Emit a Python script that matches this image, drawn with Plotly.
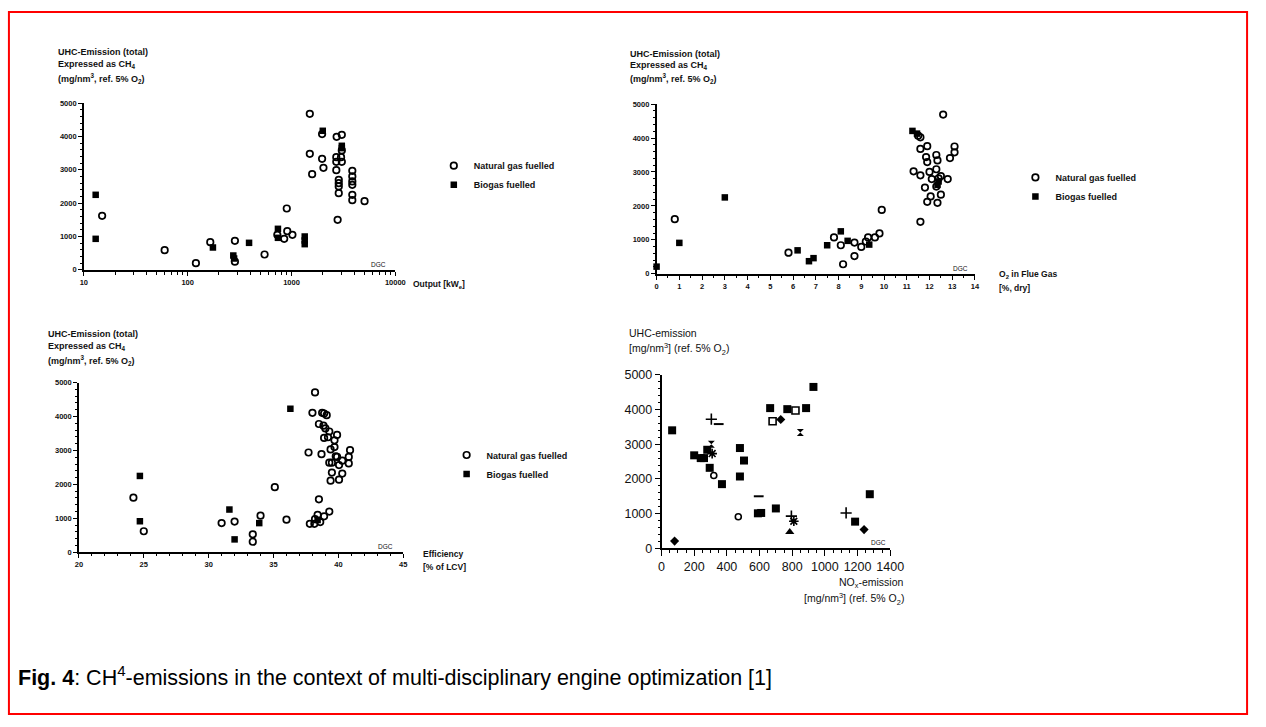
import plotly.graph_objects as go

W, H = 1266, 727
FONT = "Liberation Sans, Arial, sans-serif"

# ---------------- data ----------------
# Panel 1: UHC vs output [kWe] (log)
ng1_x = [15, 60, 120, 165, 285, 285, 550, 730, 850, 900, 910, 1020, 1500, 1500, 1580, 1970, 2030, 1970, 2720, 3050,
         2700, 2700, 3000, 3050, 2700, 2850, 2850, 2850, 2850, 2780, 3050, 3850, 3850, 3850, 3850, 3850, 3850, 5050]
ng1_y = [1620, 590, 200, 830, 870, 245, 460, 1050, 930, 1840, 1160, 1050, 4680, 3480, 2870, 3330, 3060, 4070, 3990, 4050,
         3380, 3240, 3380, 3240, 2990, 2700, 2600, 2500, 2300, 1500, 3580, 2970, 2800, 2650, 2550, 2250, 2090, 2060]
bg1_x = [13, 13, 175, 275, 280, 390, 740, 740, 1340, 1340, 1340, 2000, 3050, 3050]
bg1_y = [2250, 930, 670, 430, 340, 810, 1230, 960, 1000, 880, 770, 4170, 3720, 3650]

# Panel 2: UHC vs O2 in flue gas [%, dry]
ng2_x = [0.8, 5.8, 7.8, 8.1, 8.2, 8.7, 8.7, 9.0, 9.2, 9.3, 9.6, 9.8, 9.9, 11.3, 11.6, 11.6, 11.9, 11.6, 11.6, 11.8,
         11.85, 11.9, 11.9, 12.0, 12.05, 12.1, 12.3, 12.3, 12.35, 12.35, 12.4, 12.5, 12.5, 12.6, 12.8, 12.9, 13.1, 13.1,
         12.3, 11.5]
ng2_y = [1610, 620, 1070, 840, 280, 920, 520, 790, 950, 1070, 1070, 1190, 1880, 3020, 4020, 3680, 3760, 2900, 1530, 2540,
         3440, 3290, 2120, 3000, 2280, 2790, 3500, 3080, 3340, 2090, 2810, 2330, 2880, 4690, 2790, 3410, 3750, 3580,
         2570, 4070]
bg2_x = [0, 1.0, 3.0, 6.2, 6.7, 6.9, 7.5, 8.1, 8.4, 9.35, 11.25, 11.45, 12.4, 12.35]
bg2_y = [210, 910, 2250, 690, 370, 460, 840, 1250, 970, 860, 4210, 4130, 2720, 2620]

# Panel 3: UHC vs efficiency [% of LCV]
ng3_x = [24.2, 25.0, 31.0, 32.0, 33.4, 33.4, 34.0, 35.1, 36.0, 37.7, 38.2, 38.0, 38.5, 38.7, 38.75, 38.9, 39.1, 38.85,
         39.0, 39.3, 39.2, 38.9, 39.9, 39.7, 39.7, 39.4, 39.8, 39.9, 39.3, 39.5, 40.05, 40.3, 40.8, 40.9, 40.8, 39.5,
         40.3, 39.4, 40.05, 38.5, 39.3, 38.9, 38.4, 38.2, 37.8, 38.6, 38.15]
ng3_y = [1610, 620, 860, 905, 530, 310, 1080, 1920, 960, 2940, 4710, 4110, 3780, 2890, 4110, 4090, 4040, 3730,
         3650, 3560, 3390, 3370, 3460, 3300, 3100, 3030, 2830, 2810, 2640, 2640, 2570, 2700, 2810, 3010, 2620, 2350,
         2320, 2110, 2140, 1560, 1200, 1060, 1100, 980, 840, 890, 840]
bg3_x = [24.7, 24.7, 31.6, 32.0, 33.9, 36.3, 38.4]
bg3_y = [2250, 915, 1260, 380, 860, 4230, 950]

# Panel 4: UHC vs NOx emission
sq4_x = [65, 200, 240, 260, 280, 295, 370, 480, 480, 505, 590, 610, 700, 665, 770, 885, 930, 1185, 1275]
sq4_y = [3400, 2680, 2600, 2600, 2840, 2320, 1850, 2890, 2070, 2530, 1010, 1020, 1150, 4040, 4010, 4040, 4650, 770, 1560]
osq4_x, osq4_y = [680, 820], [3660, 3970]
dia4_x, dia4_y = [80, 730, 1240], [210, 3710, 540]
circ4_x, circ4_y = [320, 470], [2100, 910]
plus4_x, plus4_y = [305, 795, 1130], [3720, 930, 1020]
dash4_x, dash4_y = [350, 595], [3580, 1500]
hour4_x, hour4_y = [305, 850], [3000, 3340]
ast4_x, ast4_y = [310, 810], [2730, 780]
tri4_x, tri4_y = [785], [470]

y_ticks = [0, 1000, 2000, 3000, 4000, 5000]
x1_ticks = [10, 100, 1000, 10000]
x2_ticks = list(range(0, 15))
x3_ticks = [20, 25, 30, 35, 40, 45]
x4_ticks = [0, 200, 400, 600, 800, 1000, 1200, 1400]

# ---------------- layout helpers ----------------
def dom_x(a, b):
    return [a / W, b / W]

def dom_y(bottom, top):
    return [1 - bottom / H, 1 - top / H]

fig = go.Figure()

NG = dict(symbol="circle-open", size=6.5, color="black", line=dict(width=1.7, color="black"))
BG = dict(symbol="square", size=6.5, color="black")

def add(x, y, xa, ya, name, marker, legend=None, show=False):
    fig.add_trace(go.Scatter(x=x, y=y, mode="markers", name=name, marker=marker,
                             xaxis=xa, yaxis=ya, showlegend=show, cliponaxis=False,
                             legend=legend if legend else "legend"))

add(ng1_x, ng1_y, "x", "y", "Natural gas fuelled", NG, "legend", True)
add(bg1_x, bg1_y, "x", "y", "Biogas fuelled", BG, "legend", True)
add(ng2_x, ng2_y, "x2", "y2", "Natural gas fuelled", NG, "legend2", True)
add(bg2_x, bg2_y, "x2", "y2", "Biogas fuelled", BG, "legend2", True)
add(ng3_x, ng3_y, "x3", "y3", "Natural gas fuelled", NG, "legend3", True)
add(bg3_x, bg3_y, "x3", "y3", "Biogas fuelled", BG, "legend3", True)

add(sq4_x, sq4_y, "x4", "y4", "sq", dict(symbol="square", size=8, color="black"))
add(osq4_x, osq4_y, "x4", "y4", "osq", dict(symbol="square-open", size=7, color="black", line=dict(width=1.6)))
add(dia4_x, dia4_y, "x4", "y4", "dia", dict(symbol="diamond", size=7, color="black"))
add(circ4_x, circ4_y, "x4", "y4", "circ", dict(symbol="circle-open", size=6, color="black", line=dict(width=1.6)))
add(plus4_x, plus4_y, "x4", "y4", "plus", dict(symbol="cross-thin", size=8, color="black", line=dict(width=1.6, color="black")))
add(dash4_x, dash4_y, "x4", "y4", "dash", dict(symbol="line-ew", size=7, color="black", line=dict(width=2, color="black")))
add(hour4_x, hour4_y, "x4", "y4", "hour", dict(symbol="hourglass", size=7, color="black"))
add(ast4_x, ast4_y, "x4", "y4", "ast", dict(symbol="asterisk", size=8, color="black", line=dict(width=1.6, color="black")))
add(tri4_x, tri4_y, "x4", "y4", "tri", dict(symbol="triangle-up", size=8, color="black"))

tickfont_small = dict(family=FONT, size=7.5, color="#111", weight="bold")
tickfont_big = dict(family=FONT, size=12.5, color="#111")

def axis(**kw):
    base = dict(showline=True, linecolor="black", linewidth=1.5, ticks="outside", ticklen=4,
                tickwidth=1, tickcolor="black", showgrid=False, zeroline=False)
    base.update(kw)
    return base

minor1 = [m * 10 ** e for e in range(1, 4) for m in range(2, 10)]

fig.update_layout(
    width=W, height=H, margin=dict(l=0, r=0, t=0, b=0),
    paper_bgcolor="white", plot_bgcolor="rgba(0,0,0,0)",
    font=dict(family=FONT, color="#111"),
    xaxis=axis(type="log", range=[1, 4], domain=dom_x(81, 397), anchor="y",
               tickvals=x1_ticks, ticktext=[str(v) for v in x1_ticks], tickfont=tickfont_small,
               minor=dict(ticks="outside", ticklen=3, tickcolor="black", tickvals=minor1)),
    yaxis=axis(range=[0, 5000], domain=dom_y(268, 98), anchor="x",
               tickvals=y_ticks, tickfont=tickfont_small,
               minor=dict(ticks="outside", ticklen=2, tickcolor="black", dtick=200)),
    xaxis2=axis(range=[0, 14], domain=dom_x(662, 985), anchor="y2",
                tickvals=x2_ticks, tickfont=tickfont_small,
                minor=dict(ticks="outside", ticklen=2, tickcolor="black", dtick=0.5)),
    yaxis2=axis(range=[0, 5000], domain=dom_y(272, 99), anchor="x2",
                tickvals=y_ticks, tickfont=tickfont_small,
                minor=dict(ticks="outside", ticklen=2, tickcolor="black", dtick=200)),
    xaxis3=axis(range=[20, 45], domain=dom_x(76, 405), anchor="y3",
                tickvals=x3_ticks, tickfont=tickfont_small,
                minor=dict(ticks="outside", ticklen=2, tickcolor="black", dtick=1)),
    yaxis3=axis(range=[0, 5000], domain=dom_y(556, 383), anchor="x3",
                tickvals=y_ticks, tickfont=tickfont_small,
                minor=dict(ticks="outside", ticklen=2, tickcolor="black", dtick=200)),
    xaxis4=axis(range=[0, 1400], domain=dom_x(667, 899), anchor="y4",
                tickvals=x4_ticks, tickfont=tickfont_big, ticklen=6,
                minor=dict(ticks="outside", ticklen=3, tickcolor="black", dtick=50)),
    yaxis4=axis(range=[0, 5000], domain=dom_y(552, 375), anchor="x4",
                tickvals=y_ticks, tickfont=tickfont_big, ticklen=5,
                minor=dict(ticks="outside", ticklen=2, tickcolor="black", dtick=200)),
)

legend_common = dict(xanchor="left", yanchor="top", bgcolor="rgba(0,0,0,0)",
                     font=dict(family=FONT, size=9, color="#111", weight="bold"),
                     itemwidth=30, tracegroupgap=0)
fig.update_layout(
    legend=dict(x=436 / W, y=1 - 147 / H, **legend_common),
    legend2=dict(x=1026 / W, y=1 - 159 / H, **legend_common),
    legend3=dict(x=449 / W, y=1 - 442 / H, **legend_common),
)

def ann(text, px, py, size=9, xanchor="left", bold=True):
    fig.add_annotation(text=text, x=px / W, y=1 - py / H, xref="paper", yref="paper",
                       xanchor=xanchor, yanchor="middle", showarrow=False,
                       font=dict(family=FONT, size=size, color="#111",
                                 weight="bold" if bold else "normal"))

# y-axis titles
for (px, ys) in [(53, (46, 59, 73)), (633, (48, 60, 73)), (43, (333, 346, 360))]:
    ann("UHC-Emission (total)", px, ys[0])
    ann("Expressed as CH<sub>4</sub>", px, ys[1])
    ann("(mg/nm<sup>3</sup>, ref. 5% O<sub>2</sub>)", px, ys[2])
ann("UHC-emission", 632, 332, size=10.5, bold=False)
ann("[mg/nm<sup>3</sup>] (ref. 5% O<sub>2</sub>)", 632, 349, size=10.5, bold=False)

# x-axis titles
ann("Output [kW<sub>e</sub>]", 413, 283, size=8.5)
ann("O<sub>2</sub> in Flue Gas", 1007, 273, size=8.5)
ann("[%, dry]", 1007, 287, size=8.5)
ann("Efficiency", 423, 558, size=8.5)
ann("[% of LCV]", 423, 571, size=8.5)
ann("NO<sub>x</sub>-emission", 915, 587, size=10.5, xanchor="right", bold=False)
ann("[mg/nm<sup>3</sup>] (ref. 5% O<sub>2</sub>)", 915, 604, size=10.5, xanchor="right", bold=False)

# DGC markers near x-axis ends
for xa, ya, fx in [("x", "y", 0.945), ("x2", "y2", 0.955), ("x3", "y3", 0.945), ("x4", "y4", 0.95)]:
    fig.add_annotation(text="DGC", x=fx, y=0.0, xref=f"{xa} domain", yref=f"{ya} domain",
                       xanchor="center", yanchor="bottom", showarrow=False,
                       font=dict(family=FONT, size=6.5, color="#111"))

# caption
fig.add_annotation(text="<b>Fig. 4</b>: CH<sup>4</sup>-emissions in the context of multi-disciplinary engine optimization [1]",
                   x=12 / W, y=1 - 682 / H, xref="paper", yref="paper", xanchor="left", yanchor="middle",
                   showarrow=False, font=dict(family=FONT, size=21.5, color="black"))

# red frame
fig.add_shape(type="rect", xref="paper", yref="paper", x0=5 / W, x1=1261 / W, y0=1 - 721 / H, y1=1 - 5 / H,
              line=dict(color="red", width=2), fillcolor="rgba(0,0,0,0)")

fig.write_html("out.html")
